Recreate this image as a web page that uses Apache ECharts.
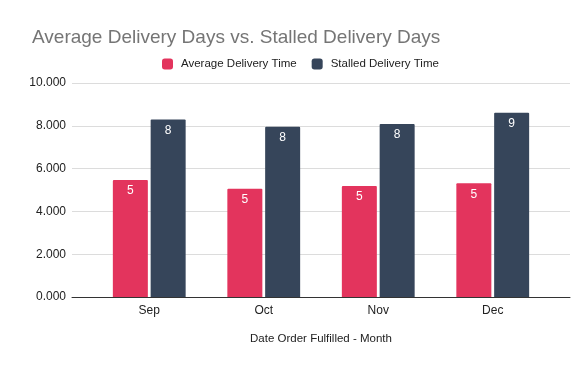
<!DOCTYPE html>
<html><head><meta charset="utf-8">
<script src="https://cdn.jsdelivr.net/npm/echarts@6/dist/echarts.min.js"></script>
<style>html,body{margin:0;padding:0;background:#fff}#c{width:579px;height:365px}</style>
</head><body><div id="c"></div>
<script>
const months = ['Sep', 'Oct', 'Nov', 'Dec'];
const averageDelivery = [5.47, 5.06, 5.19, 5.31];
const stalledDelivery = [8.30, 7.95, 8.08, 8.61];
const yTicks = [0, 2, 4, 6, 8, 10];

const chart = echarts.init(document.getElementById('c'));
const font = '"Liberation Sans", Arial, sans-serif';
const lbl = {show: true, position: 'insideTop', distance: 5, color: '#fff', fontSize: 12, fontFamily: font,
  formatter: p => String(Math.round(p.value))};
const yMin = yTicks[0], yMax = yTicks[yTicks.length - 1];
chart.setOption({
  animation: false,
  title: {text: 'Average Delivery Days vs. Stalled Delivery Days', left: 27, top: 23,
    textStyle: {fontFamily: font, fontSize: 19, fontWeight: 'normal', color: '#757575'}},
  legend: {top: 53, left: 157, itemWidth: 11, itemHeight: 11, itemGap: 15,
    textStyle: {fontFamily: font, fontSize: 11.5, color: '#222', padding: [0, 0, 0, 3]},
    data: [{name: 'Average Delivery Time', icon: 'roundRect'}, {name: 'Stalled Delivery Time', icon: 'roundRect'}]},
  grid: [
    {left: 72, right: 9, top: 83, bottom: 68, containLabel: false},
    {left: 92, right: 29, top: 83, bottom: 68, containLabel: false}
  ],
  xAxis: [
    {gridIndex: 0, type: 'category', data: months, axisLabel: {show: false}, axisTick: {show: false},
     axisLine: {lineStyle: {color: '#333'}}},
    {gridIndex: 1, type: 'category', data: months,
     name: 'Date Order Fulfilled - Month', nameLocation: 'middle', nameGap: 36,
     nameTextStyle: {fontFamily: font, fontSize: 11.5, color: '#222'},
     axisTick: {show: false}, axisLine: {show: false},
     axisLabel: {fontFamily: font, fontSize: 12, color: '#222', margin: 8}}
  ],
  yAxis: [
    {gridIndex: 0, type: 'value', min: yMin, max: yMax, interval: 2,
     axisLabel: {fontFamily: font, fontSize: 12, color: '#222', margin: 6,
       formatter: v => v.toFixed(3)},
     splitLine: {lineStyle: {color: '#dcdcdc'}}, axisLine: {show: false}, axisTick: {show: false}},
    {gridIndex: 1, type: 'value', min: yMin, max: yMax, interval: 2, show: false, splitLine: {show: false}}
  ],
  series: [
    {name: 'Average Delivery Time', type: 'bar', xAxisIndex: 1, yAxisIndex: 1, data: averageDelivery,
     barWidth: 35, barGap: '8%', z: 3,
     itemStyle: {color: '#E3345D', borderRadius: [1, 1, 0, 0]}, label: lbl},
    {name: 'Stalled Delivery Time', type: 'bar', xAxisIndex: 1, yAxisIndex: 1, data: stalledDelivery,
     barWidth: 35, z: 3,
     itemStyle: {color: '#36455A', borderRadius: [1, 1, 0, 0]}, label: lbl}
  ]
});
</script></body></html>
